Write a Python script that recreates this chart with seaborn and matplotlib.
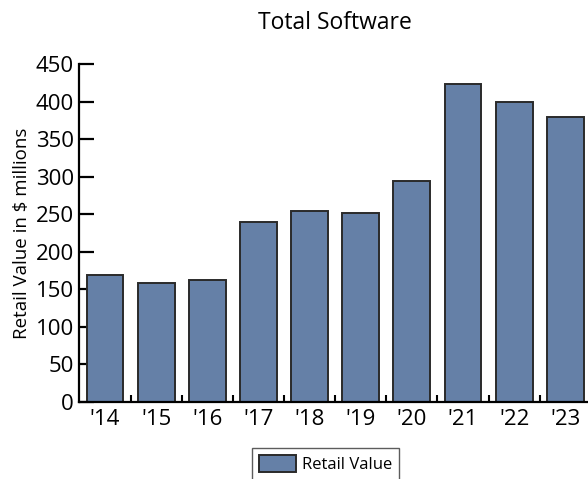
import matplotlib
matplotlib.use("Agg")
import matplotlib.pyplot as plt
import seaborn as sns
import pandas as pd

# ── Data ─────────────────────────────────────────────────────────────────────
years = ["'14", "'15", "'16", "'17", "'18", "'19", "'20", "'21", "'22", "'23"]
retail_value = [169, 158, 162, 240, 255, 252, 295, 423, 400, 379]

BAR_COLOR = "#6580a7"

sns.set_theme(style="white")
plt.rcParams["font.family"] = ["Open Sans", "DejaVu Sans"]
plt.rcParams["text.color"] = "black"
plt.rcParams["axes.labelcolor"] = "black"
plt.rcParams["xtick.color"] = "black"
plt.rcParams["ytick.color"] = "black"
plt.rcParams["xtick.direction"] = "in"
plt.rcParams["ytick.direction"] = "in"

df = pd.DataFrame({"year": years, "value": retail_value})

fig = plt.figure(figsize=(5.88, 4.79), dpi=100)
ax = fig.add_axes([0.135, 0.161, 0.87, 0.705])

sns.barplot(data=df, x="year", y="value", color=BAR_COLOR, width=0.72,
            edgecolor="#2a2a2a", linewidth=1.4, saturation=1,
            label="Retail Value", ax=ax)

ax.set_ylim(0, 450)
ax.set_xlim(-0.5, 9.5)
ax.set_yticks(range(0, 451, 50))
ax.set_xlabel("")
ax.set_ylabel("Retail Value in $ millions", fontsize=13.5, labelpad=3)
ax.set_title("Total Software", fontsize=16.5, pad=25)

for side in ["top", "right"]:
    ax.spines[side].set_visible(False)
for side in ["left", "bottom"]:
    ax.spines[side].set_linewidth(1.6)
    ax.spines[side].set_color("black")

ax.tick_params(axis="y", direction="in", length=11, width=1.6,
               labelsize=16, pad=4, left=True)
ax.set_xticks([i + 0.5 for i in range(9)], minor=True)
ax.tick_params(axis="x", which="major", length=0, labelsize=16, pad=5)
ax.tick_params(axis="x", which="minor", direction="in", length=5,
               width=1.5, bottom=True)

leg = ax.get_legend()
if leg is not None:
    leg.remove()
handles, labels = ax.get_legend_handles_labels()
fig.legend(handles[:1], labels[:1], loc="upper left",
           bbox_to_anchor=(0.415, 0.082), frameon=True, fancybox=False,
           edgecolor="#333333", fontsize=12, handlelength=2.2,
           handleheight=1.2, handletextpad=0.4, borderpad=0.4)

fig.savefig("out.png", dpi=100)
